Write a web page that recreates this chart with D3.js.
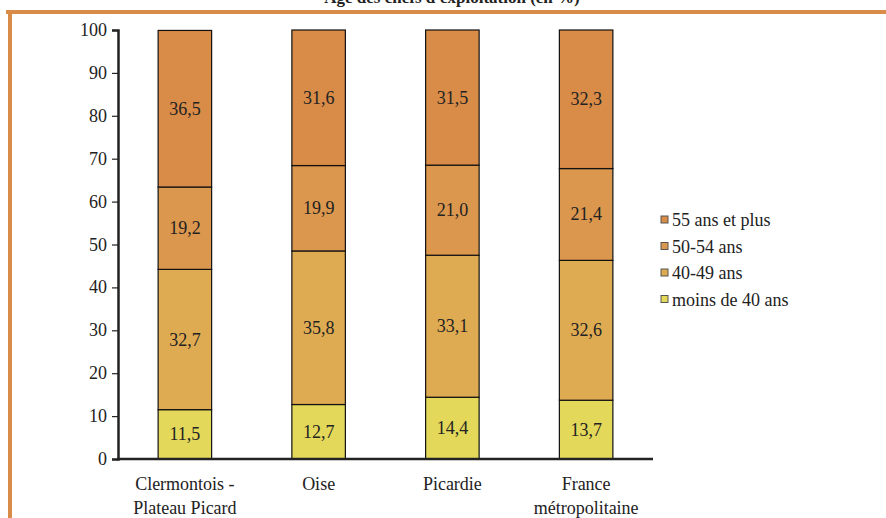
<!DOCTYPE html>
<html><head><meta charset="utf-8"><script src="https://cdn.jsdelivr.net/npm/d3@7"></script></head>
<body style="margin:0">
<script>
// stacked bars: age of farm managers by zone (in %)
var zones = [["Clermontois -", "Plateau Picard"], ["Oise"], ["Picardie"],
             ["France", "métropolitaine"]];
var series = ["moins de 40 ans", "40-49 ans", "50-54 ans", "55 ans et plus"];
var under40 = [11.5, 12.7, 14.4, 13.7];
var age40to49 = [32.7, 35.8, 33.1, 32.6];
var age50to54 = [19.2, 19.9, 21.0, 21.4];
var over55 = [36.5, 31.6, 31.5, 32.3];
var colors = ["#e3d85a", "#dfab52", "#db974e", "#d98b48"];
var yTicks = [0, 10, 20, 30, 40, 50, 60, 70, 80, 90, 100];

var width = 886, height = 518;

var svg = d3.select("body").append("svg")
    .attr("width", width)
    .attr("height", height)
    .attr("font-family", "Liberation Serif");

// every text goes through this so the serif face is set the same way
function label(parent, x0, y0, str, size, anchor) {
    return parent.append("text")
        .attr("x", x0).attr("y", y0)
        .attr("text-anchor", anchor || "start")
        .attr("font-family", "Liberation Serif")
        .attr("font-size", size)
        .style("font-family", "'Liberation Serif'")
        .style("font-size", size + "px")
        .style("fill", "#222")
        .text(str);
}

// frame (orange lines top and left)
svg.append("rect").attr("x", 6).attr("y", 10).attr("width", 880).attr("height", 4)
    .style("fill", "#d98b48");
svg.append("rect").attr("x", 8).attr("y", 10).attr("width", 4).attr("height", 508)
    .style("fill", "#d98b48");

// title, mostly cut by the top edge
label(svg, 452, 3, "Âge des chefs d'exploitation (en %)", 17, "middle")
    .style("font-weight", "bold");

var rows = zones.map(function(z, i) {
    return {zone: i, values: [under40[i], age40to49[i], age50to54[i], over55[i]]};
});

var x = d3.scaleBand().domain(d3.range(zones.length))
    .range([118, 653]).paddingInner(0.6).paddingOuter(0.3);
var y = d3.scaleLinear().domain([0, 100]).range([459, 30]);

// bars
rows.forEach(function(r) {
    var base = 0;
    r.values.forEach(function(v, k) {
        svg.append("rect")
            .attr("x", x(r.zone))
            .attr("y", y(base + v))
            .attr("width", x.bandwidth())
            .attr("height", y(base) - y(base + v))
            .style("fill", colors[k])
            .style("stroke", "#111")
            .style("stroke-width", 1.2);
        label(svg, x(r.zone) + x.bandwidth() / 2, y(base + v / 2) + 6,
            d3.format(".1f")(v).replace(".", ","), 18, "middle");
        base += v;
    });
});

// y axis: line and ticks from d3, labels redrawn in serif
var yAxis = d3.axisLeft(y).tickValues(yTicks).tickSize(6).tickFormat("");
var gy = svg.append("g")
    .attr("transform", "translate(118,0)")
    .call(yAxis);
gy.select(".domain").style("stroke", "#222").style("stroke-width", 2.5);
gy.selectAll(".tick line").style("stroke", "#222").style("stroke-width", 1.2);
yTicks.forEach(function(t) {
    label(svg, 107, y(t) + 6, t, 18, "end");
});

// x axis baseline
svg.append("line")
    .attr("x1", 117).attr("x2", 653)
    .attr("y1", y(0)).attr("y2", y(0))
    .style("stroke", "#222").style("stroke-width", 2.5);

// category labels
zones.forEach(function(z, i) {
    z.forEach(function(line, j) {
        label(svg, x(i) + x.bandwidth() / 2, 490 + j * 24, line, 18, "middle");
    });
});

// legend (top entry is last series)
var legend = svg.append("g").attr("transform", "translate(661,0)");
series.slice().reverse().forEach(function(s, i) {
    var k = series.length - 1 - i;
    var cy = 220 + i * 26.5;
    legend.append("rect")
        .attr("x", 0).attr("y", cy - 4)
        .attr("width", 7).attr("height", 7)
        .style("fill", colors[k])
        .style("stroke", "#555").style("stroke-width", 1);
    label(legend, 11, cy + 6, s, 18);
});
</script>
</body></html>
